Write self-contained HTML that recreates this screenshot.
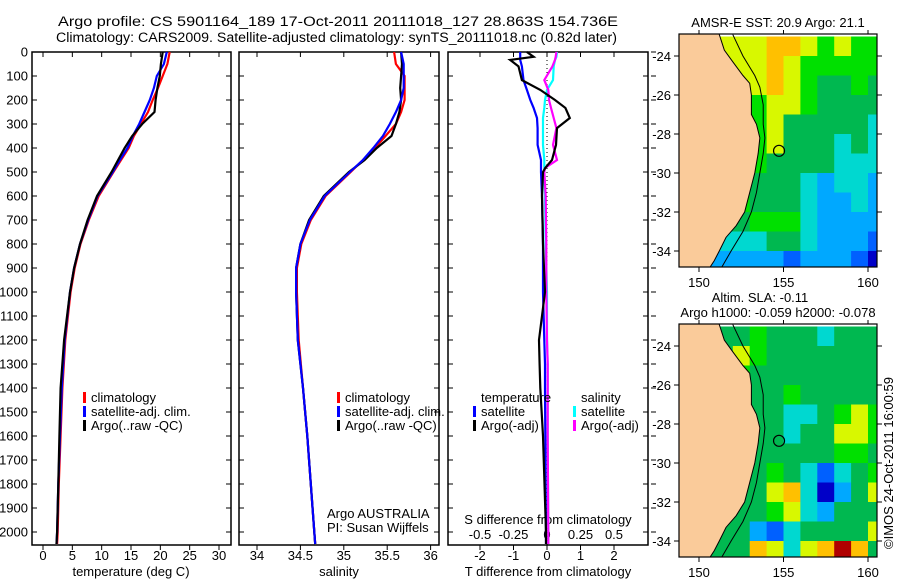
<!DOCTYPE html>
<html><head><meta charset="utf-8"><style>
html,body{margin:0;padding:0;background:#fff;}
svg{display:block;font-family:"Liberation Sans",sans-serif;}
</style></head><body>
<svg id="fig" width="900" height="580" viewBox="0 0 900 580">
<defs>
<clipPath id="m1c"><rect x="679" y="34" width="198" height="233"/></clipPath>
<clipPath id="m2c"><rect x="679" y="324" width="198" height="233"/></clipPath>
</defs>
<g font-size="13.5">
<text x="58" y="26" textLength="560" lengthAdjust="spacingAndGlyphs">Argo profile: CS 5901164_189 17-Oct-2011 20111018_127 28.863S 154.736E</text>
<text x="56" y="42" textLength="561" lengthAdjust="spacingAndGlyphs">Climatology: CARS2009. Satellite-adjusted climatology: synTS_20111018.nc (0.82d later)</text>
</g>
<g id="root"></g>
</svg>
<script>
// ---------- data ----------
const depths   = [0,50,100,150,200,250,300,350,400,450,500,600,700,800,900,1000,1200,1400,1600,1800,2000,2050];
const tempClim = [21.6,21.2,20.4,19.6,18.7,17.9,16.7,15.5,14.6,13.3,12.0,9.5,7.8,6.4,5.4,4.7,3.8,3.3,3.0,2.7,2.5,2.4];
const tempSat  = [21.1,20.6,19.4,18.9,18.2,17.3,16.4,15.3,14.4,13.1,11.9,9.3,7.7,6.3,5.3,4.6,3.7,3.2,2.9,2.6,2.4,2.3];
const tempArgo = [20.4,20.1,19.9,19.5,19.2,19.0,16.9,15.2,13.9,12.8,11.7,9.2,7.6,6.3,5.3,4.6,3.6,3.0,2.8,2.6,2.4,2.3];
const salClim  = [35.58,35.60,35.70,35.70,35.70,35.66,35.60,35.48,35.36,35.22,35.08,34.79,34.62,34.51,34.46,34.46,34.48,34.53,34.58,34.62,34.66,34.67];
const salSat   = [35.66,35.69,35.69,35.69,35.66,35.60,35.53,35.45,35.34,35.22,35.07,34.78,34.61,34.50,34.45,34.45,34.47,34.53,34.58,34.62,34.66,34.67];
const salArgo  = [35.66,35.67,35.66,35.65,35.66,35.64,35.60,35.55,35.38,35.24,35.06,34.77,34.60,34.50,34.45,34.45,34.47,34.53,34.58,34.62,34.66,34.67];
const dDepths  = [0,20,33,60,117,158,200,233,275,317,387,450,483,500,600,800,1000,1200,1300,1400,1600,2000,2050];
const dTsat    = [-0.8,-0.8,-0.8,-0.75,-0.7,-0.6,-0.5,-0.4,-0.3,-0.28,-0.28,-0.18,-0.18,-0.18,-0.15,-0.12,-0.12,-0.08,-0.06,-0.06,-0.05,-0.03,-0.03];
const dTargo   = [-0.6,-0.4,-1.1,-0.85,-0.75,-0.2,0.24,0.55,0.68,0.3,0.27,0.15,-0.05,-0.12,-0.15,-0.12,-0.06,-0.24,-0.22,-0.2,-0.12,-0.03,-0.03];
const dSsat    = [0.075,0.07,0.06,0.05,0.045,0.0,-0.015,-0.02,-0.03,-0.03,-0.03,-0.02,-0.02,-0.02,-0.015,-0.01,0.0,0.0,0.005,0.005,0.005,0.01,0.01];
const dSargo   = [0.07,0.065,0.06,0.04,-0.02,0.01,0.015,0.03,0.05,0.07,0.045,0.075,-0.015,-0.02,-0.01,-0.005,-0.005,0.0,0.005,0.005,0.005,0.01,0.01];
const depthTicks = [0,100,200,300,400,500,600,700,800,900,1000,1100,1200,1300,1400,1500,1600,1700,1800,1900,2000];
const tempTicks = [0,5,10,15,20,25,30];
const salTicks = [34,34.5,35,35.5,36];
const salTickLabels = ["34","34.5","35","35.5","36"];
const dTTicks = [-2,-1,0,1,2];
const dSTicks = [-0.5,-0.25,0,0.25,0.5];
const dSTickLabels = ["-0.5","-0.25","0","0.25","0.5"];
const mapLonTicks = [150,155,160];
const mapLatTicks = [-24,-26,-28,-30,-32,-34];
const mapLatLabels = ["-24","-26","-28","-30","-32","-34"];
const gridLons = [149,150,151,152,153,154,155,156,157,158,159,160];
const gridLats = [-23,-24,-25,-26,-27,-28,-29,-30,-31,-32,-33,-34];
const sstGrid = [
[7,7,7,7,7,8,8,7,6,7,6,6],
[7,7,7,7,7,8,7,6,6,6,6,6],
[7,7,7,7,7,8,7,6,5,5,6,5],
[7,7,7,7,6,7,7,6,5,5,5,5],
[7,7,7,7,6,7,5,5,5,5,5,4],
[6,6,6,6,6,7,5,5,5,4,5,4],
[6,6,6,6,6,5,5,5,5,4,4,4],
[6,6,6,6,5,5,5,4,3,4,4,3],
[6,6,6,6,5,5,5,4,3,3,4,3],
[5,5,5,5,6,6,6,4,3,3,3,3],
[4,4,4,4,4,5,5,4,3,3,3,2],
[3,3,3,3,3,3,2,3,3,3,2,1]];
const slaGrid = [
[5,5,5,5,6,5,5,5,4,5,5,5],
[5,5,5,7,6,5,5,5,5,5,5,5],
[5,5,5,6,5,5,5,5,5,5,5,5],
[5,5,5,5,5,5,6,5,5,5,5,5],
[5,5,5,5,5,5,4,4,5,6,7,6],
[5,5,5,5,5,5,4,5,5,7,7,6],
[5,5,5,5,5,5,5,5,5,6,6,5],
[5,5,5,5,5,6,5,4,2,4,5,6],
[5,5,5,5,5,7,8,4,1,3,5,7],
[5,5,5,5,5,6,7,4,3,5,5,5],
[5,5,5,5,3,2,4,5,5,5,5,7],
[5,5,5,5,8,7,4,7,8,9,8,5]];
const coastLon = [151.2,151.5,152.0,152.6,153.0,153.1,153.1,153.4,153.6,153.5,153.3,153.0,152.7,152.2,151.6,151.2,150.9,150.6];
const coastLat = [-22.9,-23.7,-24.3,-25.0,-25.4,-26.0,-27.0,-27.5,-28.2,-29.0,-30.0,-31.0,-32.0,-32.7,-33.3,-34.0,-34.5,-34.9];
const isoLon = [152.0,152.6,153.3,153.6,153.8,153.8,153.9,153.8,153.6,153.4,153.1,152.6,151.9,151.3];
const isoLat = [-22.9,-24,-25,-25.6,-26.5,-27.5,-28.2,-29,-30,-31,-32,-33,-34,-34.9];
const argoLon = 154.736, argoLat = -28.863;
const cmap = ["#00007f","#0000c8","#0060ff","#00a8ff","#00d8d0","#00b850","#00e000","#d8f800","#ffc000","#b00000"];

// ---------- helpers ----------
const NS="http://www.w3.org/2000/svg";
const root=document.getElementById('root');
function el(tag,attrs,parent){const e=document.createElementNS(NS,tag);for(const k in attrs)e.setAttribute(k,attrs[k]);(parent||root).appendChild(e);return e;}
const yD = d => 52 + d*0.24;
const PT = 545;
const xT = t => 43 + t*5.867;
const xS = s => 257 + (s-34)*86.8;
const xdT = v => 547 + v*33.5;
const xdS = v => 547 + v*134;
const mx = lon => 699 + (lon-150)*16.9;
const myTop = lat => 56 + (-24-lat)*19.5;
const myBot = lat => 346 + (-24-lat)*19.5;

function frame(x0,x1,name){
  const r=el('rect',{x:x0,y:52,width:x1-x0,height:PT-52,fill:'none',stroke:'#000','stroke-width':1.5});
  
  
}
function line(xs,ys,fx,color,name,w){
  const pts=xs.map((v,i)=>fx(v).toFixed(1)+','+yD(ys[i]).toFixed(1)).join(' ');
  const p=el('polyline',{points:pts,fill:'none',stroke:color,'stroke-width':w||2.2});
  
  
}
function txt(x,y,s,anchor,size,name,g){
  const t=el('text',{x:x,y:y,'text-anchor':anchor||'start','font-size':size||13},g);
  t.textContent=s;
  
  
  return t;
}

// ---------- panel frames & depth axis ----------
frame(32,231,'temperature-panel');
frame(239,439,'salinity-panel');
frame(448,648,'difference-panel');
depthTicks.forEach(d=>{
  const y=yD(d);
  txt(28,y+4.5,String(d),'end',13,'depth-tick-label');
  [[32,37],[226,231],[239,244],[434,439],[448,453],[643,648],[651,656]].forEach(([a,b])=>{
    el('line',{x1:a,x2:b,y1:y,y2:y,stroke:'#000','stroke-width':1});
  });
});
// temperature x ticks
tempTicks.forEach(t=>{
  const x=xT(t);
  el('line',{x1:x,x2:x,y1:52,y2:57,stroke:'#000'});
  el('line',{x1:x,x2:x,y1:PT,y2:PT+5,stroke:'#000'});
  txt(x,560,String(t),'middle',13,'temperature-tick-label');
});
txt(131,576,'temperature (deg C)','middle',13,'temperature-axis-title');
salTicks.forEach((s,i)=>{
  const x=xS(s);
  el('line',{x1:x,x2:x,y1:52,y2:57,stroke:'#000'});
  el('line',{x1:x,x2:x,y1:PT,y2:PT+5,stroke:'#000'});
  txt(x,560,salTickLabels[i],'middle',13,'salinity-tick-label');
});
txt(339,576,'salinity','middle',13,'salinity-axis-title');
dTTicks.forEach(v=>{
  const x=xdT(v);
  el('line',{x1:x,x2:x,y1:52,y2:57,stroke:'#000'});
  el('line',{x1:x,x2:x,y1:PT,y2:PT+5,stroke:'#000'});
  txt(x,560,String(v),'middle',13,'t-difference-tick-label');
});
dSTicks.forEach((v,i)=>{
  txt(xdS(v),539,dSTickLabels[i],'middle',13,'s-difference-tick-label');
});
txt(548,524,'S difference from climatology','middle',13,'s-difference-axis-title');
txt(548,576,'T difference from climatology','middle',13,'t-difference-axis-title');
// zero dotted line
const z=el('line',{x1:547,x2:547,y1:52,y2:PT,stroke:'#000','stroke-dasharray':'1,3'});



// ---------- profiles ----------
line(tempClim,depths,xT,'#ff0000','temperature-climatology-line');
line(tempSat,depths,xT,'#0000ff','temperature-satellite-line');
line(tempArgo,depths,xT,'#000000','temperature-argo-line');
line(salClim,depths,xS,'#ff0000','salinity-climatology-line');
line(salArgo,depths,xS,'#000000','salinity-argo-line');
line(salSat,depths,xS,'#0000ff','salinity-satellite-line');
line(dTsat,dDepths,xdT,'#0000ff','t-diff-satellite-line');
line(dSsat,dDepths,xdS,'#00ffff','s-diff-satellite-line');
line(dSargo,dDepths,xdS,'#ff00ff','s-diff-argo-line');
line(dTargo,dDepths,xdT,'#000000','t-diff-argo-line');

// ---------- legends ----------
function legend(x,y,color,label,name){
  if(color){const b=el('rect',{x:x-8,y:y-10,width:3,height:11,fill:color});
    
    }
  txt(x,y,label,'start',13,name);
}
legend(91,402,'#ff0000','climatology','legend-climatology');
legend(91,416,'#0000ff','satellite-adj. clim.','legend-satellite-adj');
legend(91,430,'#000000','Argo(..raw -QC)','legend-argo');
legend(345,402,'#ff0000','climatology','legend-sal-climatology');
legend(345,416,'#0000ff','satellite-adj. clim.','legend-sal-satellite-adj');
legend(345,430,'#000000','Argo(..raw -QC)','legend-sal-argo');
legend(481,402,null,'temperature','legend-temperature-header');
legend(481,416,'#0000ff','satellite','legend-t-satellite');
legend(481,430,'#000000','Argo(-adj)','legend-t-argo');
legend(581,402,null,'salinity','legend-salinity-header');
legend(581,416,'#00ffff','satellite','legend-s-satellite');
legend(581,430,'#ff00ff','Argo(-adj)','legend-s-argo');
txt(327,518,'Argo AUSTRALIA','start',13,'argo-australia-label');
txt(327,532,'PI: Susan Wijffels','start',13,'pi-label');

// ---------- maps ----------
function drawMap(grid,my,clip,top,name){
  const g=el('g',{'clip-path':'url(#'+clip+')'});
  
  
  grid.forEach((row,i)=>row.forEach((v,j)=>{
    const x0=mx(gridLons[j]), x1=mx(gridLons[j]+1), y0=my(gridLats[i]), y1=my(gridLats[i]-1);
    const c=el('rect',{x:x0,y:y0,width:x1-x0+0.5,height:y1-y0+0.5,fill:cmap[v]},g);
    
    
  }));
  const landPts=coastLon.map((l,i)=>mx(l)+','+my(coastLat[i])).concat([mx(148.5)+','+my(-35.2),mx(148.5)+','+my(-22.5),mx(151.2)+','+my(-22.5)]).join(' ');
  const land=el('polygon',{points:landPts,fill:'#facb9a',stroke:'#000','stroke-width':1},g);
  
  
  const iso=el('polyline',{points:isoLon.map((l,i)=>mx(l)+','+my(isoLat[i])).join(' '),fill:'none',stroke:'#000','stroke-width':1},g);
  
  
  const c=el('circle',{cx:mx(argoLon),cy:my(argoLat),r:5.5,fill:'none',stroke:'#000','stroke-width':1.2},g);
  
  
  const f=el('rect',{x:679,y:top,width:198,height:233,fill:'none',stroke:'#000','stroke-width':1.2});
  
  
  mapLonTicks.forEach(l=>{
    const x=mx(l);
    el('line',{x1:x,x2:x,y1:top-4,y2:top,stroke:'#000'});
    el('line',{x1:x,x2:x,y1:top+233,y2:top+238,stroke:'#000'});
    txt(x,top+253,String(l),'middle',13,'map-lon-label');
  });
  mapLatTicks.forEach((l,i)=>{
    const y=my(l);
    el('line',{x1:674,x2:679,y1:y,y2:y,stroke:'#000'});
    el('line',{x1:877,x2:882,y1:y,y2:y,stroke:'#000'});
    txt(671,y+5,mapLatLabels[i],'end',13,'map-lat-label');
  });
}
drawMap(sstGrid,myTop,'m1c',34,'sst-map');
drawMap(slaGrid,myBot,'m2c',324,'sla-map');
txt(778,27,'AMSR-E SST: 20.9 Argo: 21.1','middle',13,'sst-map-title');
txt(760,302,'Altim. SLA: -0.11','middle',13,'sla-map-title');
txt(778,317,'Argo h1000: -0.059 h2000: -0.078','middle',13,'sla-map-subtitle');
const cp=txt(0,0,'©IMOS 24-Oct-2011 16:00:59','middle',13,'copyright-label');
cp.setAttribute('transform','translate(893,463) rotate(-90)');
</script>
</body></html>
